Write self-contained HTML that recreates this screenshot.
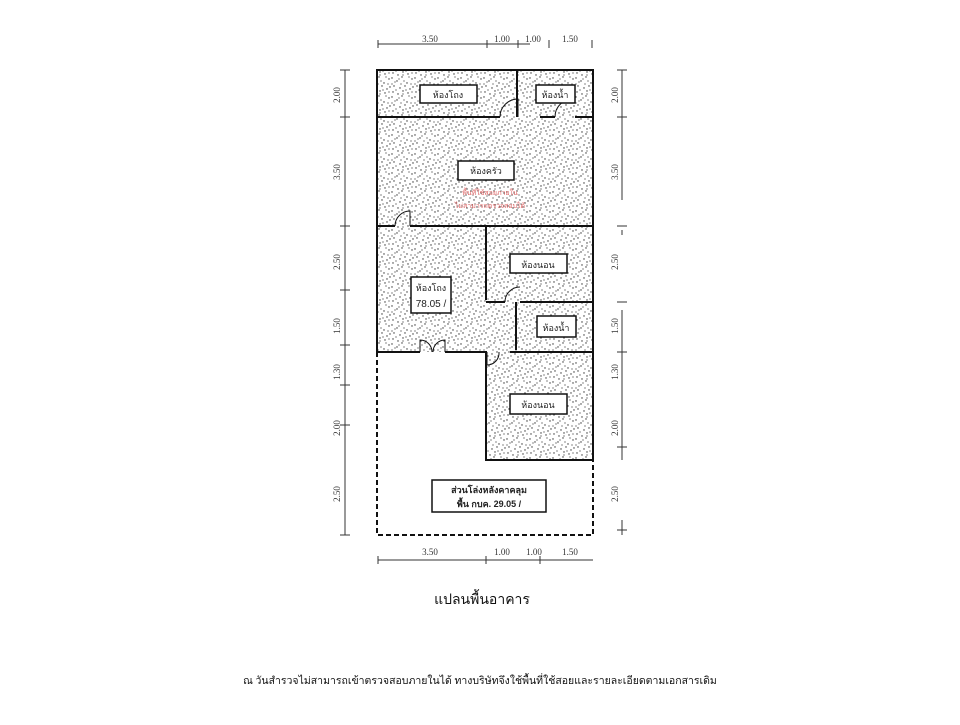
<!DOCTYPE html>
<html><head><meta charset="utf-8"><style>
body{margin:0;background:#fff;width:960px;height:720px;overflow:hidden}
text{font-family:"Liberation Serif","Noto Serif CJK SC",serif}
.t{font-family:"Liberation Sans","Noto Sans CJK SC",sans-serif}
</style></head><body>
<svg width="960" height="720" viewBox="0 0 960 720" xmlns="http://www.w3.org/2000/svg">
<defs>
<pattern id="st" width="23" height="19" patternUnits="userSpaceOnUse">
<g fill="#333">
<circle cx="1" cy="2" r=".7"/><circle cx="6" cy="5" r=".7"/><circle cx="11" cy="1" r=".7"/><circle cx="16" cy="7" r=".7"/><circle cx="21" cy="3" r=".7"/>
<circle cx="3" cy="10" r=".7"/><circle cx="9" cy="12" r=".7"/><circle cx="14" cy="10" r=".7"/><circle cx="19" cy="13" r=".7"/>
<circle cx="2" cy="16" r=".7"/><circle cx="7" cy="18" r=".7"/><circle cx="12" cy="15" r=".7"/><circle cx="17" cy="17" r=".7"/><circle cx="22" cy="11" r=".7"/>
<circle cx="4" cy="6" r=".6"/><circle cx="13" cy="5" r=".6"/><circle cx="20" cy="8" r=".6"/><circle cx="10" cy="8" r=".6"/><circle cx="5" cy="14" r=".6"/><circle cx="15" cy="14" r=".6"/>
<circle cx="8" cy="3" r=".6"/><circle cx="18" cy="1" r=".6"/><circle cx="1" cy="8" r=".6"/><circle cx="12" cy="18" r=".6"/><circle cx="21" cy="16" r=".6"/>
</g></pattern>
</defs>
<rect x="377" y="70" width="216" height="282" fill="url(#st)"/>
<rect x="486" y="352" width="107" height="108" fill="url(#st)"/>
<g stroke="#111" stroke-width="2" fill="none">
<path d="M377 352V70H593V460H486V352"/>
<path d="M517 70V117"/>
<path d="M377 117H500M540 117H555M575 117H593"/>
<path d="M377 226H395M410 226H593"/>
<path d="M486 226V300M486 302H505M520 302H593M516 302V350"/>
<path d="M377 352H420M445 352H487M510 352H593"/>
</g>
<g stroke="#111" stroke-width="1" fill="none">
<path d="M500 117a18 18 0 0 1 18 -18V117"/>
<path d="M555 117a18 18 0 0 1 20 -18"/>
<path d="M395 226a15 15 0 0 1 15 -15V226"/>
<path d="M505 302a15 15 0 0 1 15 -15"/>
<path d="M420 352V340a12 12 0 0 1 12 12M445 352V340a12 12 0 0 0 -12 12"/>
<path d="M487 352V365a12 12 0 0 0 12 -13"/>
</g>
<path d="M377 352V535H593V460" stroke="#111" stroke-width="2" fill="none" stroke-dasharray="5,3"/>
<g fill="#fff" stroke="#111" stroke-width="1.5">
<rect x="420" y="85" width="57" height="18"/>
<rect x="536" y="85" width="39" height="18"/>
<rect x="458" y="161" width="56" height="19"/>
<rect x="510" y="254" width="57" height="19"/>
<rect x="411" y="277" width="40" height="36"/>
<rect x="537" y="316" width="39" height="21"/>
<rect x="510" y="394" width="57" height="20"/>
<rect x="432" y="480" width="114" height="32"/>
</g>
<g class="t" font-size="9" text-anchor="middle" fill="#222">
<text x="448" y="98" class="t">ห้องโถง</text>
<text x="555" y="98" class="t">ห้องน้ำ</text>
<text x="486" y="174" class="t">ห้องครัว</text>
<text x="538" y="268" class="t">ห้องนอน</text>
<text x="431" y="291" class="t">ห้องโถง</text>
<text x="431" y="307" class="t" font-size="10">78.05 /</text>
<text x="556" y="331" class="t">ห้องน้ำ</text>
<text x="538" y="408" class="t">ห้องนอน</text>
<text x="489" y="493" class="t" font-weight="bold">ส่วนโล่งหลังคาคลุม</text>
<text x="489" y="507" class="t" font-weight="bold">พื้น กบค. 29.05 /</text>
<text x="490" y="195" class="t" font-size="7" fill="#d66">พื้นที่ใช้สอยภายใน</text>
<text x="490" y="208" class="t" font-size="7" fill="#d66">ไม่สามารถตรวจสอบได้</text>
</g>
<g stroke="#333" stroke-width="1" fill="none">
<path d="M378 44H530M487 40V48M518 40V48M549 40V48M592 40V48M378 40V48"/>
<path d="M378 560H593M378 556V564M486 556V564M540 556V564"/>
<path d="M345 70V535M340 70H350M340 117H350M340 226H350M340 290H350M340 345H350M340 385H350M340 425H350M340 535H350"/>
<path d="M622 70V200M622 230V235M617 70H627M617 117H627M617 226H627M617 302H627M617 352H627M617 447H627M617 530H627"/>
<path d="M622 310V460M622 520V535"/>
</g>
<g font-size="9" fill="#333" text-anchor="middle">
<text x="430" y="42">3.50</text><text x="502" y="42">1.00</text><text x="533" y="42">1.00</text><text x="570" y="42">1.50</text>
<text x="430" y="555">3.50</text><text x="502" y="555">1.00</text><text x="534" y="555">1.00</text><text x="570" y="555">1.50</text>
<g transform="translate(340,95) rotate(-90)"><text>2.00</text></g>
<g transform="translate(340,172) rotate(-90)"><text>3.50</text></g>
<g transform="translate(340,262) rotate(-90)"><text>2.50</text></g>
<g transform="translate(340,326) rotate(-90)"><text>1.50</text></g>
<g transform="translate(340,372) rotate(-90)"><text>1.30</text></g>
<g transform="translate(340,428) rotate(-90)"><text>2.00</text></g>
<g transform="translate(340,494) rotate(-90)"><text>2.50</text></g>
<g transform="translate(618,95) rotate(-90)"><text>2.00</text></g>
<g transform="translate(618,172) rotate(-90)"><text>3.50</text></g>
<g transform="translate(618,262) rotate(-90)"><text>2.50</text></g>
<g transform="translate(618,326) rotate(-90)"><text>1.50</text></g>
<g transform="translate(618,372) rotate(-90)"><text>1.30</text></g>
<g transform="translate(618,428) rotate(-90)"><text>2.00</text></g>
<g transform="translate(618,494) rotate(-90)"><text>2.50</text></g>
</g>
<text x="482" y="604" font-size="14" text-anchor="middle" class="t" fill="#111">แปลนพื้นอาคาร</text>
<text x="480" y="684" font-size="10.5" text-anchor="middle" fill="#111">ณ วันสำรวจไม่สามารถเข้าตรวจสอบภายในได้ ทางบริษัทจึงใช้พื้นที่ใช้สอยและรายละเอียดตามเอกสารเดิม</text>
</svg>
</body></html>
